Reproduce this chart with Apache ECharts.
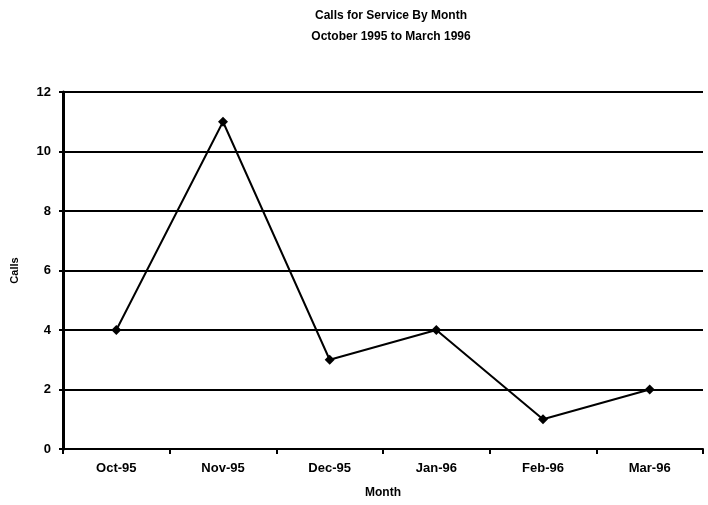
<!DOCTYPE html>
<html><head><meta charset="utf-8">
<script src="https://cdn.jsdelivr.net/npm/echarts@6/dist/echarts.min.js"></script>
<style>html,body{margin:0;padding:0;background:#fff}#c{width:708px;height:505px}</style>
</head><body><div id="c"></div>
<script>
const months = ["Oct-95","Nov-95","Dec-95","Jan-96","Feb-96","Mar-96"];
const calls = [4, 11, 3, 4, 1, 2];
const yTicks = [0, 2, 4, 6, 8, 10, 12];
const titleLines = ["Calls for Service By Month", "October 1995 to March 1996"];

const chart = echarts.init(document.getElementById('c'));
const F = "Arial, 'Liberation Sans', sans-serif";
chart.setOption({
  animation: false,
  backgroundColor: '#fff',
  title: {
    text: titleLines.join('\n'),
    left: 386, top: 0, textAlign: 'center',
    textStyle: {fontFamily: F, fontWeight: 'bold', fontSize: 12, lineHeight: 21, color: '#000'}
  },
  grid: {left: 63, right: 5, top: 92, bottom: 56},
  xAxis: {
    type: 'category', data: months, boundaryGap: true,
    name: 'Month', nameLocation: 'middle', nameGap: 38,
    nameTextStyle: {fontFamily: F, fontWeight: 'bold', fontSize: 12, color: '#000'},
    axisLine: {lineStyle: {color: '#000', width: 2}},
    axisTick: {show: true, length: 5, lineStyle: {color: '#000', width: 2}},
    axisLabel: {fontFamily: F, fontWeight: 'bold', fontSize: 13, color: '#000', margin: 13}
  },
  yAxis: {
    type: 'value', min: yTicks[0], max: yTicks[yTicks.length-1], interval: 2,
    name: 'Calls', nameLocation: 'middle', nameGap: 43, nameRotate: 90,
    nameTextStyle: {fontFamily: F, fontWeight: 'bold', fontSize: 11, color: '#000'},
    axisLine: {show: true, lineStyle: {color: '#000', width: 3}},
    axisTick: {show: true, length: 4, lineStyle: {color: '#000', width: 2}},
    axisLabel: {fontFamily: F, fontWeight: 'bold', fontSize: 13, color: '#000', margin: 12},
    splitLine: {show: true, lineStyle: {color: '#000', width: 2}}
  },
  series: [{
    type: 'line', data: calls,
    symbol: 'diamond', symbolSize: 10,
    lineStyle: {color: '#000', width: 2},
    itemStyle: {color: '#000'}
  }]
});
</script></body></html>
